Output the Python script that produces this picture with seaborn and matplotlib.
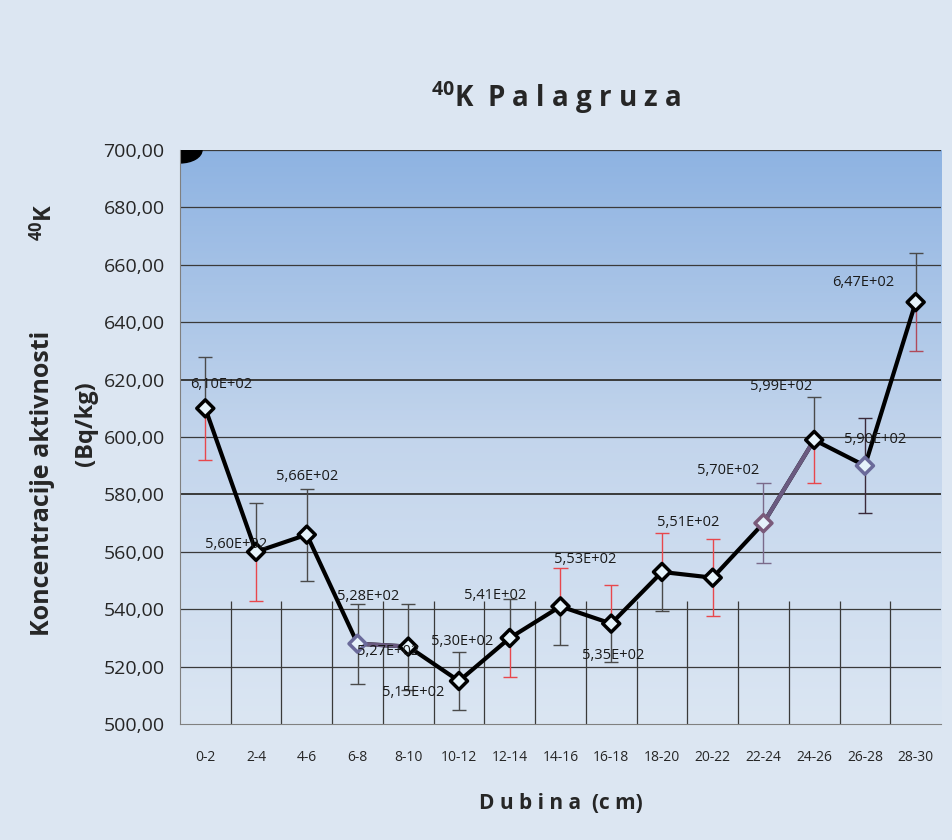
import numpy as np
import matplotlib
matplotlib.use("Agg")
import matplotlib.pyplot as plt
import seaborn as sns
from matplotlib.colors import LinearSegmentedColormap
from matplotlib.patches import Ellipse

# data
depths = ["0-2", "2-4", "4-6", "6-8", "8-10", "10-12", "12-14", "14-16",
          "16-18", "18-20", "20-22", "22-24", "24-26", "26-28", "28-30"]
activity = [610, 560, 566, 528, 527, 515, 530, 541, 535, 553, 551, 570, 599, 590, 647]
errors = [18, 17, 16, 14, 15, 10, 13.5, 13.5, 13.5, 13.5, 13.5, 14, 15, 16.5, 17]

# label offsets (pixels) as placed in the original chart
label_dx = [16, -20, 0, 11, -20, -46, -48, -65, 2, -77, -25, -35, -33, 10, -52]
label_dy = [24, 7, 58, 47, -5, -11, -4, 11, -32, 12, 55, 53, 53, 26, 20]

DARK = "#4a4a4a"
RED = "#e8474c"
PURP = "#7a6a8a"
up_col = [DARK, DARK, DARK, DARK, DARK, DARK, DARK, RED, RED, RED, RED, PURP, DARK, "#3a2a3a", DARK]
lo_col = [RED, RED, DARK, DARK, DARK, DARK, RED, DARK, DARK, DARK, RED, PURP, RED, "#3a2a3a", "#b04a5a"]
edge_col = ["black", "black", "black", "#6a6a9a", "black", "black", "black", "black",
            "black", "black", "black", "#7a5a7a", "black", "#6a6a9a", "black"]

sns.set_style("white")
plt.rcParams["font.family"] = ["Open Sans", "DejaVu Sans"]
plt.rcParams["mathtext.default"] = "regular"

fig = plt.figure(figsize=(9.52, 8.4), dpi=100)
fig.patch.set_facecolor("#dce6f2")
ax = fig.add_axes([0.189, 0.138, 0.7995, 0.6834])

# gradient background of the plot area
cmap = LinearSegmentedColormap.from_list("bg", ["#dbe6f3", "#c3d5ec", "#8eb3e2"])
grad = np.linspace(0, 1, 256).reshape(-1, 1)
ax.imshow(grad, extent=[0, 1, 0, 1], transform=ax.transAxes, cmap=cmap,
          origin="lower", aspect="auto", zorder=0)

pos = np.arange(len(depths))
ax.set_xlim(-0.5, len(depths) - 0.5)
ax.set_ylim(500, 700)

# grid lines
for v in range(520, 701, 20):
    lw = 1.4 if v in (580, 620) else 0.9
    ax.axhline(v, color="#3a3a3a", lw=lw, zorder=1)
ax.vlines(pos[:-1] + 0.5, 500, 543, color="#3a3a3a", lw=0.9, zorder=1)

# odd black corner mark
ax.add_patch(Ellipse((0, 1), 0.058, 0.045, transform=ax.transAxes,
                     color="black", zorder=2, clip_on=True))

# error bars with separate upper / lower colours
y = np.array(activity, dtype=float)
e = np.array(errors)
ax.vlines(pos, y, y + e, colors=up_col, lw=1.0, zorder=2)
ax.vlines(pos, y - e, y, colors=lo_col, lw=1.0, zorder=2)
ax.hlines(y + e, pos - 0.14, pos + 0.14, colors=up_col, lw=1.0, zorder=2)
ax.hlines(y - e, pos - 0.14, pos + 0.14, colors=lo_col, lw=1.0, zorder=2)

sns.lineplot(x=pos, y=y, color="black", lw=3, sort=False, ax=ax, zorder=3)
for i in (3, 11):
    ax.plot(pos[i:i + 2], y[i:i + 2], color="#6a5a80", lw=3, zorder=3.5)
sns.scatterplot(x=pos, y=y, marker="D", s=75, color="#e6f3fb",
                edgecolor=edge_col, linewidth=2.5, ax=ax, zorder=4)

for i, v in enumerate(activity):
    txt = f"{v / 100:.2f}".replace(".", ",") + "E+02"
    ax.annotate(txt, (pos[i], v), xytext=(label_dx[i], label_dy[i]),
                textcoords="offset pixels", ha="center", va="center",
                fontsize=10.5, color="#1a1a1a", zorder=5)

# axes styling
for s in ["top", "right"]:
    ax.spines[s].set_visible(False)
ax.spines["left"].set_color("#808080")
ax.spines["bottom"].set_color("#808080")
ax.set_yticks(range(500, 701, 20))
ax.set_yticklabels([f"{v:.2f}".replace(".", ",") for v in range(500, 701, 20)],
                   fontsize=14)
ax.tick_params(axis="y", length=5, color="#808080", pad=6)
ax.set_xticks(pos)
ax.set_xticklabels(depths, fontsize=10)
ax.set_xticks(pos[:-1] + 0.5, minor=True)
ax.tick_params(axis="x", which="major", length=0, pad=19)
ax.tick_params(axis="x", which="minor", length=5, color="#808080")

ax.set_xlabel("D u b i n a  (c m)", fontsize=15, fontweight="bold", labelpad=20)
ax.set_ylabel("")
fig.text(0.584, 0.884, r"$^{40}$K  P a l a g r u z a", fontsize=20,
         fontweight="bold", ha="center", va="center")
fig.text(0.045, 0.425, "Koncentracije aktivnosti", rotation=90, fontsize=18,
         fontweight="bold", ha="center", va="center")
fig.text(0.090, 0.496, "(Bq/kg)", rotation=90, fontsize=17,
         fontweight="bold", ha="center", va="center")
fig.text(0.047, 0.735, r"$^{40}$K", rotation=90, fontsize=17,
         fontweight="bold", ha="center", va="center")

fig.savefig("out.png", dpi=100, facecolor=fig.get_facecolor())
